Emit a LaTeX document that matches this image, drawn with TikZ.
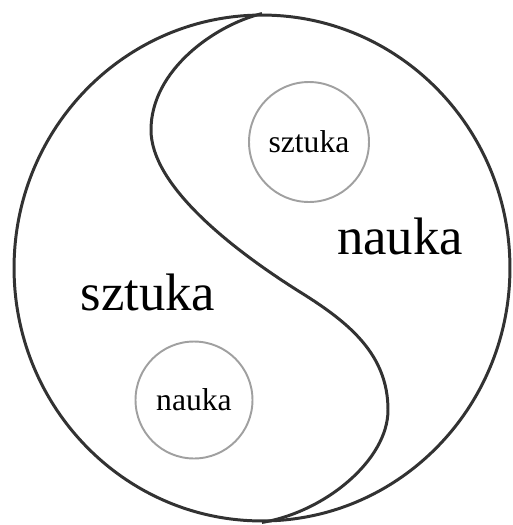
\documentclass[tikz,border=0pt]{standalone}
\usepackage{fontspec}
\setmainfont{Liberation Serif}
\usepackage{xcolor}
\usepackage{tikz}
\usetikzlibrary{shapes.geometric, positioning}
\definecolor{inkgray}{RGB}{50,50,50}
\definecolor{ringgray}{RGB}{160,160,160}

\begin{document}
\begin{tikzpicture}[
    x=0.02cm, y=-0.02cm,
    disc/.style={ellipse, draw=inkgray, line width=1.7pt, minimum width=9.92cm, minimum height=10.12cm, inner sep=0pt},
    ring/.style={circle, draw=ringgray, line width=1.1pt, minimum size=2.4cm, inner sep=0pt, font=\fontsize{18}{20}\selectfont},
    biglabel/.style={font=\fontsize{30}{34}\selectfont},
    sline/.style={draw=inkgray, line width=1.7pt},
]
\useasboundingbox (0,0) rectangle (512,525);

% Outer disc
\node[disc] (disc) at (262,268) {};

% Small circles
\node[ring] (ringtop) at (309,142) {sztuka};
\node[ring, minimum size=2.34cm] (ringbot) at (194,400) {nauka};

% Big labels
\node[biglabel] (nauka) at (400,236) {nauka};
\node[biglabel] (sztuka) at (148,292) {sztuka};

% S-curve
\coordinate (s1) at (151,130);
\coordinate (s2) at (300,292);
\coordinate (s3) at (388,410);
\draw[sline] (disc.north) .. controls (215,25) and (151,70) .. (s1)
    .. controls (151,185) and (230,248) .. (s2)
    .. controls (350,323) and (388,355) .. (s3)
    .. controls (388,460) and (325,512) .. (disc.south);

\end{tikzpicture}
\end{document}
